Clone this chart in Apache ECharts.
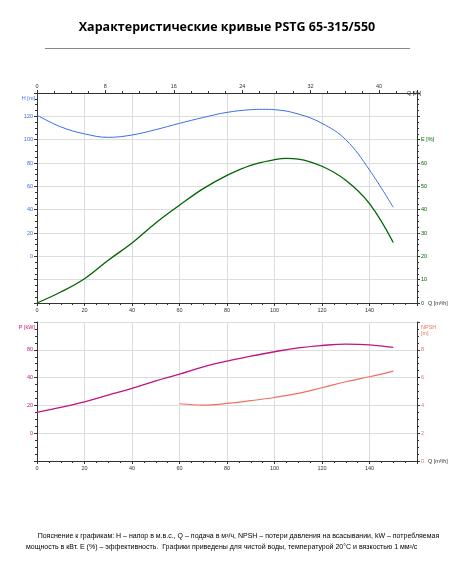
<!DOCTYPE html><html><head><meta charset="utf-8"><script src="https://cdn.jsdelivr.net/npm/echarts@6/dist/echarts.min.js"></script>
<style>body{margin:0;background:#fff;font-family:"Open Sans",sans-serif}#t{position:absolute;top:18px;width:454px;text-align:center;font-weight:bold;font-size:12.5px}#l{position:absolute;top:48px;left:45px;width:365px;border-top:1px solid #888}#n{position:absolute;top:530px;left:26px;width:420px;font-size:7px;line-height:11px;text-align:left;font-family:"Liberation Sans",sans-serif}#c{position:absolute;top:0;left:0;width:454px;height:567px}</style></head><body>
<div id="c"></div><div id="t">Характеристические кривые PSTG 65-315/550</div><div id="l"></div>
<div id="n">&nbsp;&nbsp;&nbsp;&nbsp;&nbsp;&nbsp;Пояснение к графикам: H – напор в м.в.с., Q – подача в м³/ч, NPSH – потери давления на всасывании, kW – потребляемая<br>мощность в кВт. E (%) – эффективность.&nbsp; Графики приведены для чистой воды, температурой 20°C и вязкостью 1 мм²/с</div>
<script>
const qH=[0,10,20,30,40,50,60,70,80,90,95,100,110,120,130,140,150];
const H=[121,111,105,102,104,108.6,114,119,123.4,125.7,126,125.7,122,114,100,74,42];
const qE=[0,10,20,30,40,50,60,70,80,90,100,105,110,120,130,140,150];
const E=[0,4.7,10.4,18.3,25.7,34.3,41.9,49,54.7,59,61.4,62,61.7,58.6,52.6,42.6,25.9];
const qP=[0,10,20,30,40,50,60,70,80,90,100,110,120,130,140,150];
const P=[35,38.6,42.6,47.4,52.2,57.7,62.5,67.8,71.9,75.4,78.6,81.4,83.1,84.1,83.6,81.7];
const qN=[60,70,80,90,100,110,120,130,140,150];
const N=[4.12,4.02,4.14,4.34,4.57,4.86,5.27,5.7,6.06,6.47];
const pLabels={20:'0',40:'20',60:'40',80:'80'};
const z=(a,b)=>a.map((v,i)=>[v,b[i]]);
const f=5.5,gc='#ddd';
const ax=(o)=>Object.assign({axisLine:{show:true,onZero:false,lineStyle:{color:'#333'}},axisTick:{show:true,length:3,lineStyle:{color:'#333'}},minorTick:{show:true,splitNumber:4,length:2},axisLabel:{fontSize:f,color:'#333',margin:4},splitLine:{show:true,lineStyle:{color:gc}}},o);
const qx=(g,name)=>ax({type:'value',gridIndex:g,position:'bottom',min:0,max:160,interval:20,name:name,nameGap:-8,nameLocation:'end',nameTextStyle:{fontSize:f,color:'#333',padding:[16,0,0,0]},axisLabel:{fontSize:f,color:'#333',margin:4,formatter:v=>v>=160?'':v}});
const ch=echarts.init(document.getElementById('c'));
ch.setOption({animation:false,
grid:[{left:37,right:37,top:93,height:210},{left:37,right:37,top:322,height:139}],
xAxis:[qx(0,'Q [m³/h]'),qx(1,'Q [m³/h]'),
ax({type:'value',gridIndex:0,position:'top',min:0,max:160/3.6,interval:8,splitLine:{show:false},name:'Q [l/s]',nameGap:-10,nameTextStyle:{fontSize:f,color:'#333',padding:[0,0,12,0]},axisLabel:{fontSize:f,color:'#333',margin:4,formatter:v=>v>44?'':v}})],
yAxis:[ax({gridIndex:0,min:-40,max:140,interval:20,name:'H [m]',nameGap:-8,nameTextStyle:{fontSize:f,color:'#3a6ee8',align:'right',padding:[0,2,0,0]},axisLabel:{fontSize:f,color:'#3a6ee8',margin:4,formatter:v=>(v<0||v>120)?'':v}}),
ax({gridIndex:0,position:'right',min:0,max:90,interval:10,splitLine:{show:false},axisLabel:{fontSize:f,color:'#006400',margin:4,formatter:v=>v>70?'':(v==70?'E [%]':v)}}),
ax({gridIndex:1,min:0,max:100,interval:20,name:'P [kW]',nameGap:-8,nameTextStyle:{fontSize:f,color:'#c0147f',align:'right',padding:[0,2,0,0]},axisLabel:{fontSize:f,color:'#c0147f',margin:4,formatter:v=>pLabels[v]||''}}),
ax({gridIndex:1,position:'right',min:0,max:10,interval:2,splitLine:{show:false},name:'NPSH\n[m]',nameGap:-14,nameTextStyle:{fontSize:f,color:'#f07060',align:'left',padding:[0,0,0,4]},axisLabel:{fontSize:f,color:'#f07060',margin:4,formatter:v=>v>=10?'':v}})],
series:[
{type:'line',xAxisIndex:0,yAxisIndex:0,data:z(qH,H),smooth:0.4,symbol:'none',lineStyle:{color:'#3a6ee8',width:1}},
{type:'line',xAxisIndex:0,yAxisIndex:1,data:z(qE,E),smooth:0.4,symbol:'none',lineStyle:{color:'#006400',width:1.3}},
{type:'line',xAxisIndex:1,yAxisIndex:2,data:z(qP,P),smooth:0.4,symbol:'none',lineStyle:{color:'#c0147f',width:1.3}},
{type:'line',xAxisIndex:1,yAxisIndex:3,data:z(qN,N),smooth:0.4,symbol:'none',lineStyle:{color:'#f07060',width:1.2}}]});
</script></body></html>
